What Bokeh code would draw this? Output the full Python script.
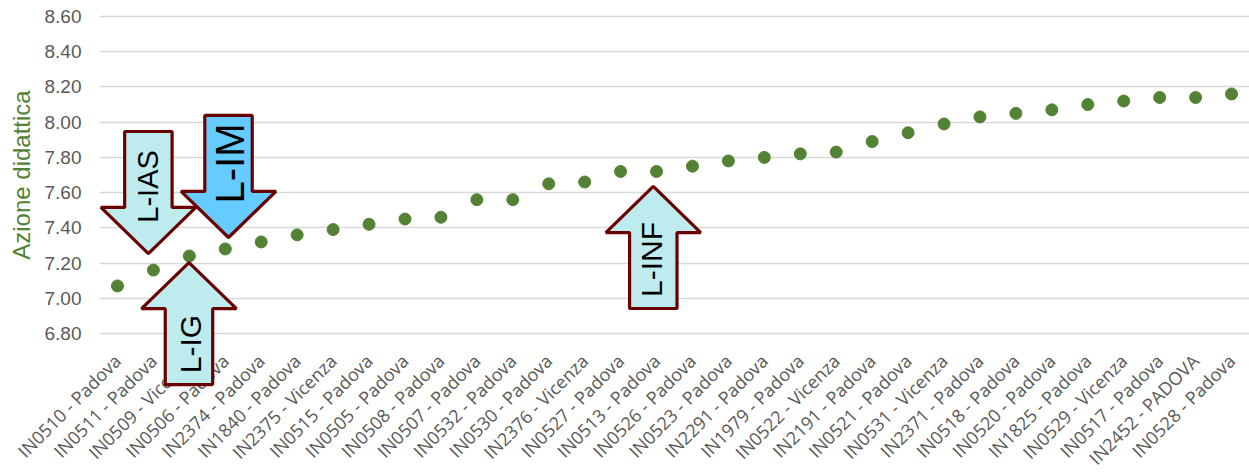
import math
from bokeh.plotting import figure
from bokeh.models import (Range1d, FixedTicker, NumeralTickFormatter,
                          PolyAnnotation, Label)
from bokeh.embed import file_html
from bokeh.resources import INLINE

# Schools ordered by score
schools = [
    "IN0510 - Padova", "IN0511 - Padova", "IN0509 - Vicenza", "IN0506 - Padova",
    "IN2374 - Padova", "IN1840 - Padova", "IN2375 - Vicenza", "IN0515 - Padova",
    "IN0505 - Padova", "IN0508 - Padova", "IN0507 - Padova", "IN0532 - Padova",
    "IN0530 - Padova", "IN2376 - Vicenza", "IN0527 - Padova", "IN0513 - Padova",
    "IN0526 - Padova", "IN0523 - Padova", "IN2291 - Padova", "IN1979 - Padova",
    "IN0522 - Vicenza", "IN2191 - Padova", "IN0521 - Padova", "IN0531 - Vicenza",
    "IN2371 - Padova", "IN0518 - Padova", "IN0520 - Padova", "IN1825 - Padova",
    "IN0529 - Vicenza", "IN0517 - Padova", "IN2452 - PADOVA", "IN0528 - Padova",
]
azione_didattica = [
    7.07, 7.16, 7.24, 7.28, 7.32, 7.36, 7.39, 7.42,
    7.45, 7.46, 7.56, 7.56, 7.65, 7.66, 7.72, 7.72,
    7.75, 7.78, 7.80, 7.82, 7.83, 7.89, 7.94, 7.99,
    8.03, 8.05, 8.07, 8.10, 8.12, 8.14, 8.14, 8.16,
]
y_ticks = [6.8, 7.0, 7.2, 7.4, 7.6, 7.8, 8.0, 8.2, 8.4, 8.6]
y_title = "Azione didattica"

# Arrow callouts: label, centre (category index), tip value, direction, fill,
# text position and text size
callouts = [
    ("L-IAS", 0.86, 7.254, "down", "#BDEBEE", 0.85, 7.635, 29),
    ("L-IM", 3.09, 7.345, "down", "#66CCFF", 3.12, 7.765, 40),
    ("L-IG", 1.99, 7.203, "up", "#BDEBEE", 2.02, 6.74, 30),
    ("L-INF", 14.91, 7.635, "up", "#BDEBEE", 14.85, 7.22, 30),
]

GREEN = "#548235"
GREY = "#595959"

W, H = 1249, 476
TOP, LEFT = 16, 99                      # where the value grid starts
n = len(schools)
CAT_PX = (W - LEFT) / n                 # pixels per category
VALUE_PX = 317 / 1.8                    # pixels per unit on the value axis
Y_MIN, Y_MAX = 6.8, 8.6
positions = list(range(n))

# The frame covers the whole canvas so that the rotated school names and the
# callouts below the grid are not clipped; both axes are pinned inside it.
x_start = -0.5 - LEFT / CAT_PX
y_start = Y_MAX - (H - TOP) / VALUE_PX
y_end = Y_MAX + TOP / VALUE_PX

p = figure(width=W, height=H, output_backend="svg", toolbar_location=None,
           x_range=Range1d(x_start, n - 0.5), y_range=Range1d(y_start, y_end),
           min_border_left=0, min_border_right=0, min_border_top=0,
           min_border_bottom=0)
p.outline_line_color = None
p.background_fill_color = "white"
p.border_fill_color = "white"

p.scatter(x=positions, y=azione_didattica, size=12, color=GREEN,
          line_color=GREEN)

# Value axis
p.yaxis.fixed_location = -0.5
p.yaxis.ticker = FixedTicker(ticks=y_ticks)
p.yaxis.formatter = NumeralTickFormatter(format="0.00")
p.yaxis.axis_line_color = None
p.yaxis.major_tick_line_color = None
p.yaxis.minor_tick_line_color = None
p.yaxis.major_tick_out = 0
p.yaxis.major_label_standoff = 18
p.yaxis.major_label_text_font = "Liberation Sans"
p.yaxis.major_label_text_font_size = "19px"
p.yaxis.major_label_text_color = GREY

p.add_layout(Label(x=-0.5 + (21 - LEFT) / CAT_PX, y=(Y_MIN + Y_MAX) / 2,
                   text=y_title, angle=math.pi / 2, text_align="center",
                   text_baseline="middle", text_font="Liberation Sans",
                   text_font_size="24px", text_color=GREEN))

# Category axis, pinned to the bottom gridline
p.xaxis.fixed_location = Y_MIN
p.xaxis.ticker = FixedTicker(ticks=positions)
p.xaxis.major_label_overrides = dict(zip(positions, schools))
p.xaxis.axis_line_color = None
p.xaxis.major_tick_line_color = None
p.xaxis.minor_tick_line_color = None
p.xaxis.major_tick_out = 0
p.xaxis.major_label_orientation = math.pi / 4
p.xaxis.major_label_standoff = 24
p.xaxis.major_label_text_font = "Open Sans"
p.xaxis.major_label_text_font_size = "18px"
p.xaxis.major_label_text_color = GREY

p.xgrid.grid_line_color = None
p.ygrid.grid_line_color = "#D9D9D9"
p.ygrid.grid_line_width = 1.6
p.ygrid.bounds = (Y_MIN, Y_MAX)
p.ygrid.cross_bounds = (-0.5, n - 0.5)

# Arrow shape sizes (category units horizontally, value units vertically)
BODY_HALF = 0.66
HEAD_HALF = 1.32
HEAD_LEN = 0.262
TOTAL_LEN = 0.693

for text, cx, tip, direction, fill, tx, ty, fs in callouts:
    s = 1 if direction == "down" else -1
    base = tip + s * HEAD_LEN
    tail = tip + s * TOTAL_LEN
    xs = [cx - BODY_HALF, cx + BODY_HALF, cx + BODY_HALF, cx + HEAD_HALF, cx,
          cx - HEAD_HALF, cx - BODY_HALF]
    ys = [tail, tail, base, base, tip, base, base]
    p.add_layout(PolyAnnotation(xs=xs, ys=ys, fill_color=fill, fill_alpha=1,
                                line_color="#6B0000", line_alpha=1,
                                line_width=3.2, level="overlay"))
    p.add_layout(Label(x=tx, y=ty, text=text, angle=math.pi / 2,
                       text_align="center", text_baseline="middle",
                       text_font="Liberation Sans", text_font_size=f"{fs}px",
                       text_color="black", level="overlay"))

open("out.html", "w").write(file_html(p, INLINE))
